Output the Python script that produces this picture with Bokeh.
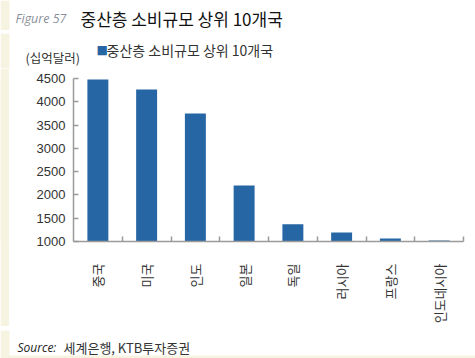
import math
from bokeh.plotting import figure
from bokeh.layouts import column, row
from bokeh.models import Range1d, FixedTicker, Label, ColumnDataSource
from bokeh.embed import file_html
from bokeh.resources import INLINE

countries = ["중국", "미국", "인도", "일본", "독일", "러시아", "프랑스", "인도네시아"]
values = [4480, 4265, 3750, 2200, 1370, 1195, 1065, 1020]
y_ticks = [1000, 1500, 2000, 2500, 3000, 3500, 4000, 4500]
series_name = "중산층 소비규모 상위 10개국"
title_text = "중산층  소비규모 상위 10개국"
unit_text = "(십억달러)"
source_label = "Source:"
source_text = "세계은행, KTB투자증권"

BLUE = "#2766a5"
GRAY = "#9a9a9a"
RULE = "#a3a6ad"
BEIGE = "#f7f3e1"
WHITE = "#ffffff"
KFONT = "Noto Sans CJK KR"

W, H = 475, 358
STRIP_W = 9
RULE_LEFT = 14
HEAD_TOP_H, RULE1_H, HEAD_BOT_H = 30, 3, 35
HEAD_H = HEAD_TOP_H + RULE1_H + HEAD_BOT_H       # 68
GAP_H, RULE2_H = 3, 1
FOOT_H = 28
CHART_H = H - HEAD_H - GAP_H - RULE2_H - FOOT_H  # 258


def blank(height, y0):
    # frame covers the whole canvas; data units equal page pixels (y measured from the top)
    f = figure(width=W, height=height, output_backend="svg", toolbar_location=None,
               x_axis_location=None, y_axis_location=None,
               x_range=Range1d(0, W), y_range=Range1d(y0 + height, y0),
               min_border=0, min_border_left=0, min_border_right=0,
               min_border_top=0, min_border_bottom=0)
    f.grid.visible = False
    f.outline_line_color = None
    f.background_fill_color = "white"
    f.border_fill_color = "white"
    return f


def fill_fig(width, height, color):
    f = figure(width=width, height=height, output_backend="svg", toolbar_location=None,
               x_axis_location=None, y_axis_location=None, min_border=0,
               min_border_left=0, min_border_right=0, min_border_top=0, min_border_bottom=0)
    f.grid.visible = False
    f.outline_line_color = None
    f.background_fill_color = color
    f.border_fill_color = color
    return f


def rule_row(height, color):
    return row(fill_fig(STRIP_W, height, BEIGE), fill_fig(RULE_LEFT - STRIP_W, height, WHITE),
               fill_fig(W - RULE_LEFT, height, color), spacing=0)


def lab(f, cx, cy, t, size, color="#222222", font=KFONT, style="normal"):
    f.add_layout(Label(x=cx, y=cy, text=t,
                       text_font=font, text_font_size=size, text_color=color,
                       text_font_style=style, text_baseline="middle"))


def band(f, x0, x1, y0, y1, color):
    f.quad(left=[x0], right=[x1], top=[y0], bottom=[y1], fill_color=color, line_color=None)


# ---------------- header ----------------
head_top = blank(HEAD_TOP_H, 0)
band(head_top, 0, STRIP_W, 0, HEAD_TOP_H, BEIGE)
lab(head_top, 15, 18, "Figure 57", "12.5px", color="#8a8f9a", font="Open Sans", style="italic")
lab(head_top, 80, 18, title_text, "17px", color="#111111")

rule1 = rule_row(RULE1_H, RULE)

y_hb = HEAD_TOP_H + RULE1_H
head_bot = blank(HEAD_BOT_H, y_hb)
band(head_bot, 0, STRIP_W, y_hb, HEAD_H, BEIGE)
lab(head_bot, 25, 57, unit_text, "12.5px", color="#333333")
# legend: swatch + series name
lab(head_bot, 96, 49.5, "■", "12px", color=BLUE, font="DejaVu Sans")
lab(head_bot, 106, 49.5, series_name, "14px", color="#333333")

# ---------------- chart ----------------
FL, FT, FB = 73, 78, 241  # frame left/top/bottom in page px
p = figure(width=W - STRIP_W, height=CHART_H, output_backend="svg", toolbar_location=None,
           x_range=Range1d(0, len(countries)), y_range=Range1d(1000, 4500),
           min_border_left=FL - STRIP_W, min_border_right=12,
           min_border_top=FT - HEAD_H, min_border_bottom=HEAD_H + CHART_H - FB)
p.background_fill_color = "white"
p.border_fill_color = "white"
p.outline_line_color = None
p.grid.visible = False

xs = [i + 0.5 for i in range(len(countries))]
src = ColumnDataSource(dict(x=xs, top=values, name=countries))
p.vbar(x="x", top="top", bottom=1000, width=0.43, source=src,
       fill_color=BLUE, line_color=None)

xa = p.xaxis[0]
xa.ticker = FixedTicker(ticks=xs, minor_ticks=list(range(1, len(countries) + 1)))
xa.major_label_overrides = {x: c for x, c in zip(xs, countries)}
xa.major_label_orientation = math.pi / 2
xa.major_tick_line_color = None
xa.minor_tick_in = 5
xa.minor_tick_out = 0
xa.minor_tick_line_color = GRAY
xa.minor_tick_line_width = 1.5
xa.axis_line_color = GRAY
xa.axis_line_width = 1.5
xa.major_label_text_font = KFONT
xa.major_label_text_font_size = "13px"
xa.major_label_text_color = "#333333"
xa.major_label_standoff = 16

ya = p.yaxis[0]
ya.ticker = FixedTicker(ticks=y_ticks)
ya.major_tick_in = 5
ya.major_tick_out = 0
ya.major_tick_line_color = GRAY
ya.major_tick_line_width = 1.5
ya.minor_tick_line_color = None
ya.axis_line_color = GRAY
ya.axis_line_width = 1.5
ya.major_label_text_font = "Liberation Sans"
ya.major_label_text_font_size = "13px"
ya.major_label_text_color = "#333333"
ya.major_label_standoff = 8

chart_row = row(fill_fig(STRIP_W, CHART_H, BEIGE), p, spacing=0)

# ---------------- footer ----------------
gap_row = row(fill_fig(STRIP_W, GAP_H, BEIGE), fill_fig(W - STRIP_W, GAP_H, WHITE), spacing=0)
rule2 = rule_row(RULE2_H, RULE)

y_foot = H - FOOT_H
foot = blank(FOOT_H, y_foot)
band(foot, 0, STRIP_W, y_foot, H, BEIGE)
band(foot, 0, W, H - 3, H, BEIGE)
lab(foot, 17, 347, source_label, "12px", color="#222222", font="Open Sans", style="italic")
lab(foot, 63, 347, source_text, "13px", color="#333333")

layout = column(head_top, rule1, head_bot, chart_row, gap_row, rule2, foot, spacing=0)
open("out.html", "w").write(file_html(layout, INLINE))
